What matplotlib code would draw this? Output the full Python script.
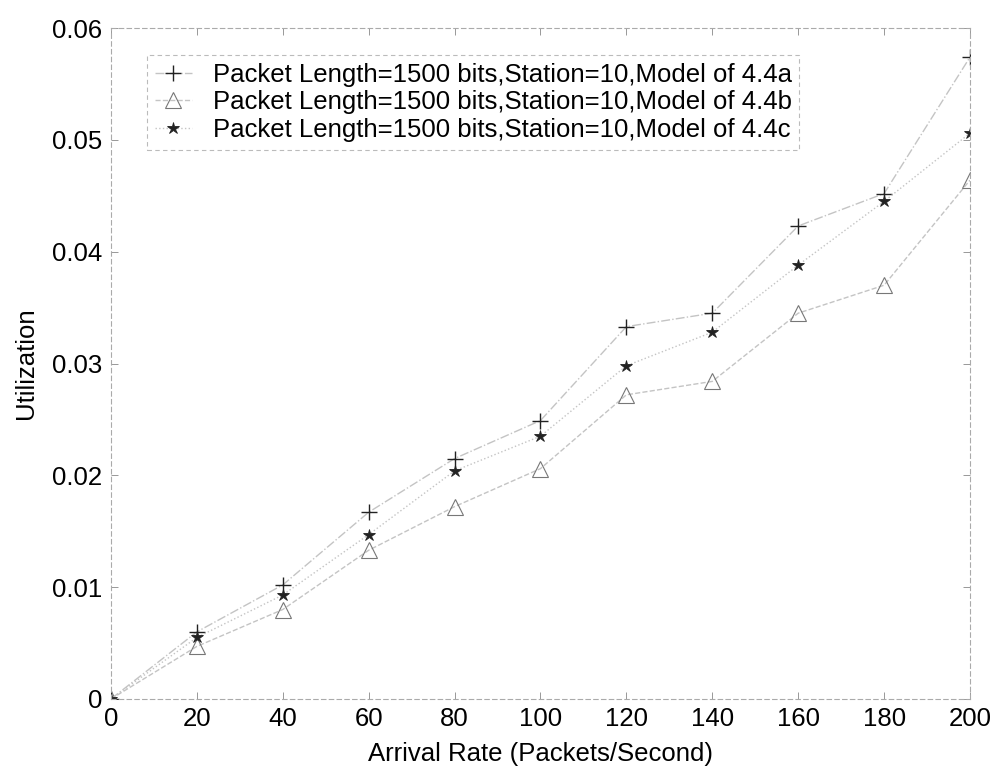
import matplotlib.pyplot as plt
from matplotlib.ticker import FormatStrFormatter

plt.rcParams['font.family'] = ['Liberation Sans', 'DejaVu Sans']

# Arrival rate (packets/second)
arrival_rate = [0, 20, 40, 60, 80, 100, 120, 140, 160, 180, 200]

# Utilization for the three models
util_a = [0, 0.0060, 0.0102, 0.0167, 0.0215, 0.0249, 0.0333, 0.0345, 0.0423, 0.0452, 0.0574]
util_b = [0, 0.0047, 0.0080, 0.0133, 0.0172, 0.0206, 0.0272, 0.0284, 0.0345, 0.0370, 0.0464]
util_c = [0, 0.0055, 0.0093, 0.0147, 0.0204, 0.0235, 0.0298, 0.0328, 0.0388, 0.0445, 0.0506]

labels = [
    "Packet Length=1500 bits,Station=10,Model of 4.4a",
    "Packet Length=1500 bits,Station=10,Model of 4.4b",
    "Packet Length=1500 bits,Station=10,Model of 4.4c",
]

fig = plt.figure(figsize=(9.96, 7.66), dpi=100)
ax = fig.add_axes([0.1114, 0.0875, 0.8625, 0.8759])

line_col = "#c4c4c4"
mark_col = "#222222"

ax.plot(arrival_rate, util_a, linestyle="-.", color=line_col, linewidth=1.0,
        marker="+", markersize=11, markeredgecolor=mark_col, markeredgewidth=1.0,
        label=labels[0])
ax.plot(arrival_rate, util_b, linestyle="--", color=line_col, linewidth=1.0,
        marker="^", markersize=11, markerfacecolor="none", markeredgecolor="#777777",
        markeredgewidth=0.8, label=labels[1])
ax.plot(arrival_rate, util_c, linestyle=":", color=line_col, linewidth=1.0,
        marker="*", markersize=9, markerfacecolor=mark_col, markeredgecolor=mark_col,
        markeredgewidth=0.6, label=labels[2])

ax.set_xlim(0, 200)
ax.set_ylim(0, 0.06)
ax.set_xticks(range(0, 201, 20))
ax.set_yticks([0, 0.01, 0.02, 0.03, 0.04, 0.05, 0.06])
ax.yaxis.set_major_formatter(FormatStrFormatter('%g'))
ax.tick_params(direction="in", top=True, right=True, length=5, width=0.6,
               color="#888888", labelsize=18.5, pad=6)

for sp in ax.spines.values():
    sp.set_color("#aaaaaa")
    sp.set_linewidth(0.8)
    sp.set_linestyle((0, (4, 3)))

ax.set_xlabel("Arrival Rate (Packets/Second)", fontsize=18.5, labelpad=8)
ax.set_ylabel("Utilization", fontsize=18.5, labelpad=10)

leg = ax.legend(loc="upper left", bbox_to_anchor=(0.042, 0.96), fontsize=18.5,
                frameon=True, fancybox=False, handlelength=1.45, handletextpad=0.8,
                borderpad=0.3, labelspacing=0.15, borderaxespad=0)
frame = leg.get_frame()
frame.set_edgecolor("#aaaaaa")
frame.set_linestyle((0, (4, 3)))
frame.set_linewidth(0.8)

fig.savefig("out.png", dpi=100)
